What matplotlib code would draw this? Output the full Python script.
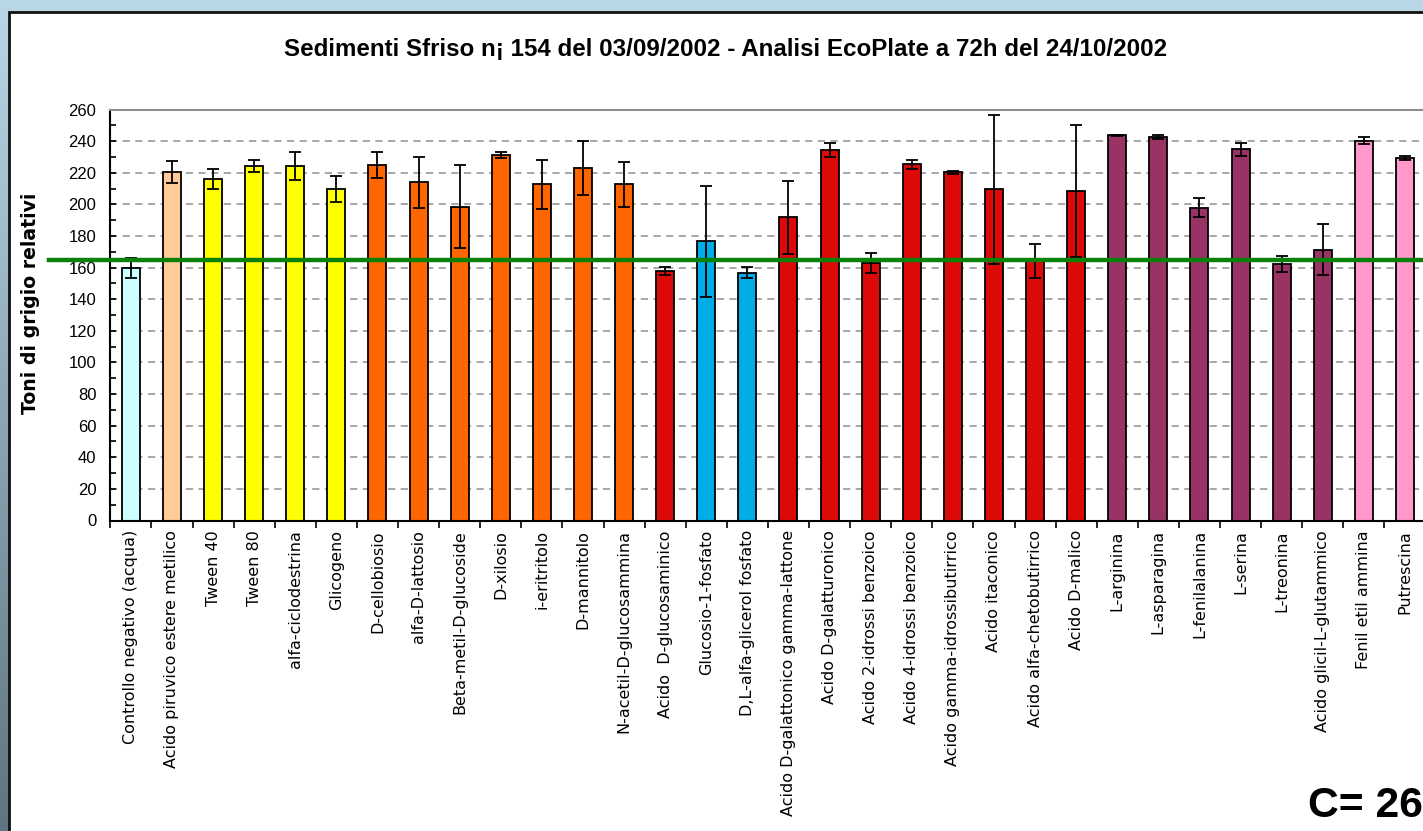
import numpy as np
import matplotlib
matplotlib.use("Agg")
import matplotlib.pyplot as plt
from matplotlib.colors import LinearSegmentedColormap
from matplotlib.patches import Rectangle
from matplotlib.lines import Line2D
from matplotlib.ticker import MultipleLocator, FixedLocator
import matplotlib.transforms as mtransforms

# substrati EcoPlate, valori medi e deviazioni
substrati = [
    "Controllo negativo (acqua)", "Acido piruvico estere metilico", "Tween 40",
    "Tween 80", "alfa-ciclodestrina", "Glicogeno", "D-cellobiosio",
    "alfa-D-lattosio", "Beta-metil-D-glucoside", "D-xilosio", "i-eritritolo",
    "D-mannitolo", "N-acetil-D-glucosammina", "Acido  D-glucosaminico",
    "Glucosio-1-fosfato", "D,L-alfa-glicerol fosfato",
    "Acido D-galattonico gamma-lattone", "Acido D-galatturonico",
    "Acido 2-idrossi benzoico", "Acido 4-idrossi benzoico",
    "Acido gamma-idrossibutirrico", "Acido itaconico",
    "Acido alfa-chetobutirrico", "Acido D-malico", "L-arginina",
    "L-asparagina", "L-fenilalanina", "L-serina", "L-treonina",
    "Acido glicil-L-glutammico", "Fenil etil ammina", "Putrescina",
]
medie = [160.0, 220.5, 216.0, 224.0, 224.0, 209.5, 225.0, 214.0, 198.5, 231.2,
         212.6, 222.8, 212.6, 157.8, 176.5, 156.8, 191.8, 234.6, 162.8, 225.4,
         220.2, 209.5, 164.2, 208.5, 243.6, 242.6, 197.8, 234.8, 162.2, 171.4,
         240.2, 229.3]
dev_std = [6.3, 7.2, 6.5, 3.8, 8.8, 8.3, 8.2, 16.0, 26.3, 1.7, 15.4, 17.0,
           14.2, 2.8, 35.0, 3.4, 23.2, 4.5, 6.2, 2.8, 0.7, 47.0, 11.0, 41.7,
           0.2, 1.0, 6.0, 4.0, 5.0, 16.0, 2.2, 1.0]
gruppi = (["#ccffff", "#ffcc99"] + ["#ffff00"] * 4 + ["#ff6600"] * 7
          + ["#dc0909"] + ["#00ade6"] * 2 + ["#dc0909"] * 8
          + ["#993366"] * 6 + ["#ff99cc"] * 2)
soglia = 164.8

W, H = 1423, 831
fig = plt.figure(figsize=(W / 100, H / 100), dpi=100)

# sfondo sfumato e pannello bianco
bg = fig.add_axes([0, 0, 1, 1], zorder=-10)
cm = LinearSegmentedColormap.from_list("cornice", ["#5f7580", "#bad7e7"])
bg.imshow(np.linspace(0, 1, 256).reshape(-1, 1), cmap=cm, aspect="auto",
          extent=[0, 1, 0, 1], origin="lower")
bg.axis("off")
pannello = Rectangle((8.5 / W, -0.05), 1.1, (H - 11.5) / H + 0.05,
                     transform=fig.transFigure, facecolor="white",
                     edgecolor="#111111", linewidth=2.0, zorder=-5)
fig.patches.append(pannello)

ax = fig.add_axes([110.3 / W, 1 - 520.5 / H, 1315.2 / W, 411 / H])
x = np.arange(len(substrati))
ax.bar(x, medie, width=0.44, color=gruppi, edgecolor="black",
       linewidth=1.3, zorder=2)
ax.errorbar(x, medie, yerr=dev_std, fmt="none", ecolor="black",
            elinewidth=1.3, capsize=4.3, capthick=1.3, zorder=3)

# linea verde del controllo, estesa fino alla cornice
tr = mtransforms.blended_transform_factory(fig.transFigure, ax.transData)
ax.add_line(Line2D([49 / W, 1.0], [soglia, soglia], transform=tr,
                   color="#0a820a", linewidth=3.2, clip_on=False, zorder=6))

ax.set_xlim(-0.5, len(substrati) - 0.5)
ax.set_ylim(0, 260)
ax.yaxis.set_major_locator(MultipleLocator(20))
ax.yaxis.set_minor_locator(MultipleLocator(10))
ax.tick_params(axis="y", which="both", direction="in", length=4, width=1.2,
               pad=10, labelsize=12)
for t in ax.get_yticklabels():
    t.set_family("Liberation Sans")

ax.set_xticks(x)
ax.set_xticklabels(substrati, rotation=90, fontsize=11.5,
                   family="DejaVu Sans", va="top", ha="center")
ax.xaxis.set_minor_locator(FixedLocator(np.arange(-0.5, len(substrati), 1.0)))
ax.tick_params(axis="x", which="major", length=0, pad=7)
ax.tick_params(axis="x", which="minor", direction="out", length=5, width=1.2)

ax.yaxis.grid(True, which="major", linestyle=(0, (4, 3)), color="#a0a0a0",
              linewidth=1.3)
ax.set_axisbelow(True)
ax.spines["left"].set_linewidth(1.5)
ax.spines["bottom"].set_linewidth(1.5)
ax.spines["top"].set_color("#8c8c8c")
ax.spines["top"].set_linewidth(1.5)
ax.spines["right"].set_visible(False)

fig.text(725.5 / W, 1 - 56 / H,
         "Sedimenti Sfriso n\u00a1 154 del 03/09/2002 - Analisi EcoPlate a 72h del 24/10/2002",
         ha="center", va="baseline", fontsize=17.4, fontweight="bold",
         family="Liberation Sans")
fig.text(30 / W, 1 - 303 / H, "Toni di grigio relativi", rotation=90,
         ha="center", va="center", fontsize=13.6, fontweight="bold",
         family="DejaVu Sans")
fig.text(1308 / W, 1 - 817 / H, "C= 26", ha="left", va="baseline",
         fontsize=30.7, fontweight="bold", family="Liberation Sans")

fig.savefig("out.png", dpi=100)
